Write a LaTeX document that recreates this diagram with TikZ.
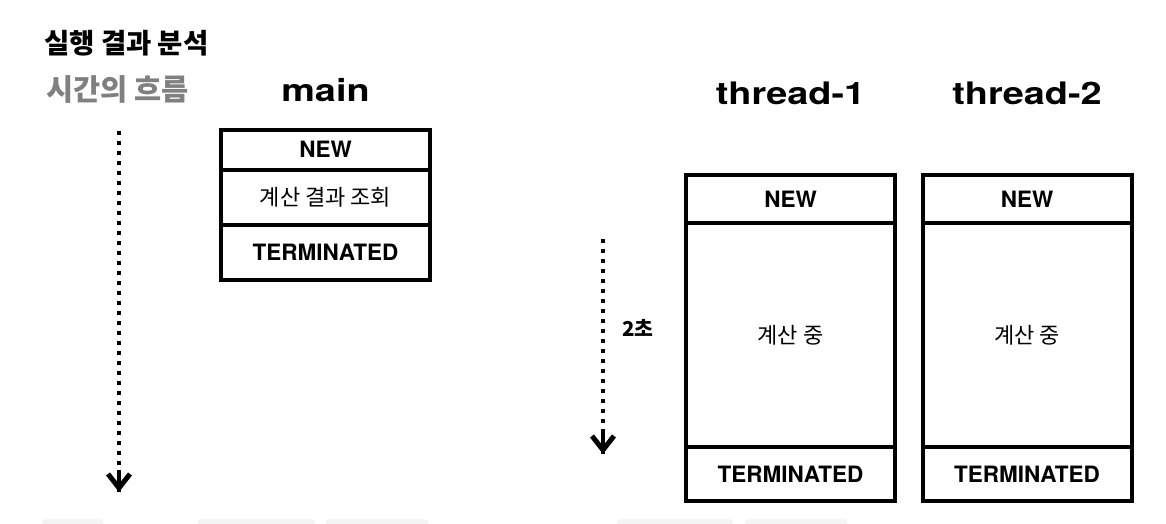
\documentclass[tikz,border=0pt]{standalone}
\usepackage{fontspec}
\setmainfont{TeX Gyre Heros}
\newfontfamily\hangul{Noto Sans CJK KR}
\newfontfamily\widehead[FakeStretch=1.22]{TeX Gyre Heros}
\usetikzlibrary{positioning,arrows.meta}
\definecolor{chipgray}{HTML}{F3F4F6}

\begin{document}
\begin{tikzpicture}[
	                  x = 1pt,
	                  y = -1pt,
	       state/.style = {draw, line width=4pt, outer sep=0pt, inner sep=0pt, minimum width=209pt, font=\bfseries\fontsize{22.5}{24}\selectfont},
	        work/.style = {state, font=\hangul\fontsize{22}{24}\selectfont},
	      header/.style = {anchor=base, font=\widehead\bfseries\fontsize{31}{33}\selectfont},
	        flow/.style = {line width=4pt, dash pattern=on 4pt off 6pt, -{Straight Barb[length=14pt,width=22pt,line width=5pt]}},
	        stem/.style = {line width=4pt},
	                    ]
	\useasboundingbox (0,0) rectangle (1166,524);
	% headings
	\node[anchor=west, inner sep=0pt, font=\hangul\bfseries\fontsize{27.5}{30}\selectfont] (heading) at (44,43) {실행 결과 분석};
	\node[anchor=west, inner sep=0pt, text=black!50, font=\hangul\bfseries\fontsize{29.5}{32}\selectfont] (timeflow) at (46,89) {시간의 흐름};
	% main
	\node[header] (mainname) at (325.5,102) {main};
	\node[state, minimum height=40pt, anchor=north] (mainnew) at (325.5,129.5) {NEW};
	\node[work, minimum height=55pt, below=0pt of mainnew] (mainread) {계산 결과 조회};
	\node[state, minimum height=55pt, below=0pt of mainread] (mainterm) {TERMINATED};
	% thread-1
	\node[header] (onename) at (790.5,105) {thread-1};
	\node[state, minimum height=48pt, anchor=north] (onenew) at (790.5,175) {NEW};
	\node[work, minimum height=224pt, below=0pt of onenew] (onecalc) {계산 중};
	\node[state, minimum height=54pt, below=0pt of onecalc] (oneterm) {TERMINATED};
	% thread-2
	\node[header] (twoname) at (1027,105) {thread-2};
	\node[state, minimum height=48pt, anchor=north] (twonew) at (1027,175) {NEW};
	\node[work, minimum height=224pt, below=0pt of twonew] (twocalc) {계산 중};
	\node[state, minimum height=54pt, below=0pt of twocalc] (twoterm) {TERMINATED};
	% time arrows
	\coordinate (flowtop) at (119,131);
	\coordinate (flowstem) at (119,470);
	\coordinate (flowend) at (119,492);
	\draw[flow] (flowtop) -- (flowend);
	\draw[stem] (flowstem) -- (flowend);
	\coordinate (waittop) at (603,239);
	\coordinate (waitstem) at (603,432);
	\coordinate (waitend) at (603,454);
	\draw[flow] (waittop) -- (waitend);
	\draw[stem] (waitstem) -- (waitend);
	\node[inner sep=0pt, font=\hangul\bfseries\fontsize{20.5}{22}\selectfont] (waitlabel) at (638,328) {2초};
	% cut-off chips at the bottom
	\foreach \l/\r in {42/104,198/315,326/428,617/733,745/848}
		\fill[chipgray, rounded corners=4pt] (\l,519) rectangle (\r,534);
\end{tikzpicture}
\end{document}
